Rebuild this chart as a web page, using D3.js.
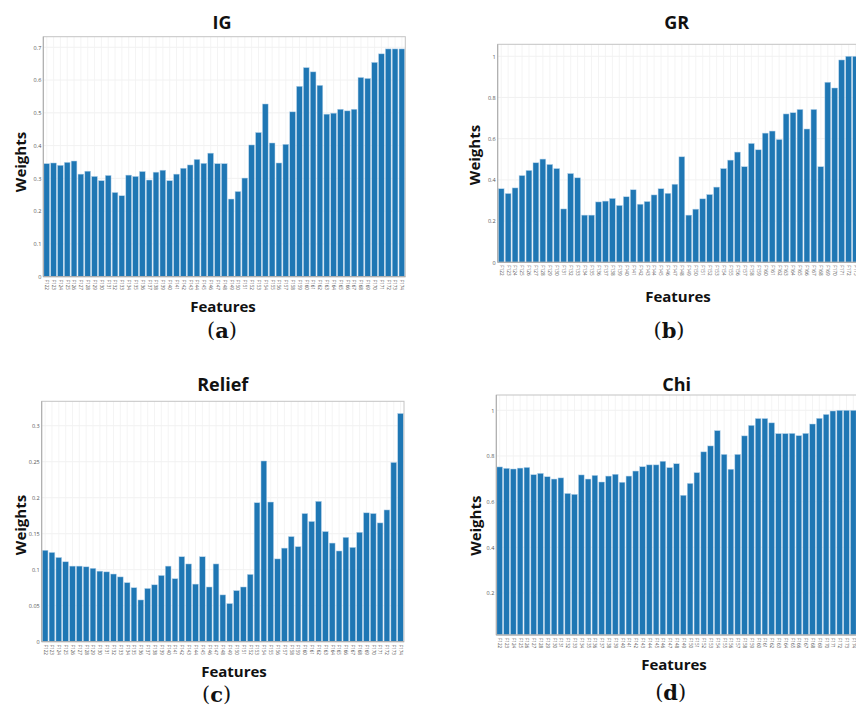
<!DOCTYPE html>
<html><head><meta charset="utf-8">
<script src="https://cdn.jsdelivr.net/npm/d3@7"></script>
<style>
html,body{margin:0;padding:0;background:#fff;overflow:hidden;}
svg{display:block;}
</style></head>
<body>
<svg id="chart" width="856" height="707"></svg>
<script>
const features = d3.range(122, 175).map(i => "F" + i);

const igValues = [0.345,0.347,0.340,0.349,0.353,0.313,0.322,0.306,0.293,0.309,0.257,0.247,0.310,0.306,0.321,0.295,0.319,0.325,0.293,0.313,0.331,0.341,0.358,0.346,0.377,0.345,0.345,0.237,0.260,0.301,0.402,0.440,0.527,0.408,0.347,0.404,0.503,0.581,0.638,0.625,0.584,0.496,0.499,0.511,0.506,0.511,0.608,0.605,0.654,0.680,0.695,0.695,0.695];
const grValues = [0.357,0.334,0.361,0.421,0.446,0.483,0.501,0.475,0.455,0.259,0.431,0.410,0.229,0.229,0.293,0.297,0.310,0.276,0.318,0.352,0.282,0.295,0.327,0.357,0.335,0.379,0.512,0.229,0.258,0.308,0.329,0.365,0.455,0.496,0.535,0.464,0.577,0.546,0.627,0.637,0.596,0.720,0.726,0.742,0.647,0.742,0.464,0.874,0.846,0.982,1.0,1.0,1.0];
const reliefValues = [0.127,0.124,0.117,0.111,0.105,0.105,0.104,0.102,0.098,0.097,0.094,0.090,0.082,0.075,0.058,0.074,0.079,0.092,0.105,0.0875,0.118,0.108,0.080,0.118,0.076,0.108,0.065,0.053,0.071,0.076,0.0935,0.193,0.251,0.194,0.115,0.130,0.146,0.132,0.178,0.167,0.195,0.153,0.137,0.126,0.145,0.131,0.152,0.179,0.178,0.165,0.183,0.249,0.317];
const chiValues = [0.752,0.746,0.743,0.747,0.750,0.718,0.724,0.709,0.699,0.704,0.636,0.632,0.717,0.699,0.715,0.686,0.712,0.720,0.685,0.712,0.734,0.753,0.761,0.761,0.777,0.749,0.766,0.628,0.680,0.727,0.818,0.844,0.911,0.807,0.742,0.807,0.888,0.934,0.964,0.964,0.945,0.898,0.898,0.899,0.889,0.899,0.940,0.965,0.982,0.997,1.0,1.0,1.0];

const igTicks = [0,0.1,0.2,0.3,0.4,0.5,0.6,0.7];
const grTicks = [0,0.2,0.4,0.6,0.8,1];
const reliefTicks = [0,0.05,0.1,0.15,0.2,0.25,0.3];
const chiTicks = [0.2,0.4,0.6,0.8,1];

const panels = [
  {title:"IG", tag:"a", values:igValues, ticks:igTicks, domain:[0,0.7323],
   left:43.3, right:405.3, top:36.7, bottom:276.7,
   titlePos:[222,22], wPos:[20,162], fPos:[223,306], tagPos:[222,330]},
  {title:"GR", tag:"b", values:grValues, ticks:grTicks, domain:[0,1.058],
   left:497.7, right:866, top:44.3, bottom:262.3,
   titlePos:[676.7,22], wPos:[474,155], fPos:[678,296], tagPos:[669,330]},
  {title:"Relief", tag:"c", values:reliefValues, ticks:reliefTicks, domain:[0,0.3339],
   left:41.7, right:404, top:401.3, bottom:641.7,
   titlePos:[222.7,384], wPos:[20,525], fPos:[234,670.7], tagPos:[216.7,694]},
  {title:"Chi", tag:"d", values:chiValues, ticks:chiTicks, domain:[0.016,1.067],
   left:496.3, right:856.7, top:395, bottom:635,
   titlePos:[676.7,384], wPos:[475,525.7], fPos:[674,664], tagPos:[670.7,692]}
];

const svg = d3.select("#chart");

panels.forEach(p => {
  const g = svg.append("g");
  const x = d3.scaleBand().domain(features).range([p.left, p.right]).paddingInner(0.16).paddingOuter(0.08);
  const y = d3.scaleLinear().domain(p.domain).range([p.bottom, p.top]);

  g.append("g").selectAll("line").data(p.ticks).join("line")
    .attr("x1", p.left).attr("x2", p.right)
    .attr("y1", d => y(d)).attr("y2", d => y(d))
    .attr("stroke", "#eeeeee").attr("stroke-width", 0.8);
  g.append("g").selectAll("line").data(features).join("line")
    .attr("x1", d => x(d) + x.bandwidth()/2).attr("x2", d => x(d) + x.bandwidth()/2)
    .attr("y1", p.top).attr("y2", p.bottom)
    .attr("stroke", "#f1f1f1").attr("stroke-width", 0.8);

  g.append("g").selectAll("rect").data(p.values).join("rect")
    .attr("x", (d,i) => x(features[i]))
    .attr("width", x.bandwidth())
    .attr("y", d => y(d))
    .attr("height", d => p.bottom - y(d))
    .attr("fill", "#1f77b4")
    .attr("stroke", "#b9d5ec").attr("stroke-width", 0.5);

  g.append("rect").attr("x", p.left).attr("y", p.top)
    .attr("width", p.right - p.left).attr("height", p.bottom - p.top)
    .attr("fill", "none").attr("stroke", "#c4c4c4").attr("stroke-width", 1);
  g.append("line").attr("x1", p.left).attr("x2", p.left).attr("y1", p.top).attr("y2", p.bottom)
    .attr("stroke", "#aaaaaa").attr("stroke-width", 1);
  g.append("line").attr("x1", p.left).attr("x2", p.right).attr("y1", p.bottom).attr("y2", p.bottom)
    .attr("stroke", "#aaaaaa").attr("stroke-width", 1);

  const yAxis = d3.axisLeft(y).tickValues(p.ticks).tickSize(0).tickPadding(2)
    .tickFormat(d => d3.format("~g")(d));
  const ya = g.append("g").attr("transform", `translate(${p.left},0)`).call(yAxis);
  ya.select(".domain").remove();
  ya.selectAll("text").attr("font-family", "Open Sans, sans-serif").attr("font-size", 5.5).attr("fill", "#555");

  const xAxis = d3.axisBottom(x).tickSize(0).tickPadding(0);
  const xa = g.append("g").attr("transform", `translate(0,${p.bottom})`).call(xAxis);
  xa.select(".domain").remove();
  xa.selectAll("text")
    .attr("font-family", "Open Sans, sans-serif").attr("font-size", 4.6).attr("fill", "#555")
    .attr("text-anchor", "start").attr("dy", null).attr("y", 0)
    .attr("transform", "translate(-1.6,3) rotate(90)");

  g.append("text").attr("x", p.titlePos[0]).attr("y", p.titlePos[1])
    .attr("text-anchor", "middle").attr("dominant-baseline", "central")
    .attr("font-family", "Open Sans, sans-serif").attr("font-weight", 700).attr("font-size", 18)
    .attr("fill", "#111").text(p.title);
  g.append("text").attr("transform", `translate(${p.wPos[0]},${p.wPos[1]}) rotate(-90)`)
    .attr("text-anchor", "middle").attr("dominant-baseline", "central")
    .attr("font-family", "Open Sans, sans-serif").attr("font-weight", 700).attr("font-size", 15)
    .attr("fill", "#111").text("Weights");
  g.append("text").attr("x", p.fPos[0]).attr("y", p.fPos[1])
    .attr("text-anchor", "middle").attr("dominant-baseline", "central")
    .attr("font-family", "Open Sans, sans-serif").attr("font-weight", 700).attr("font-size", 15)
    .attr("fill", "#111").text("Features");
  const t = g.append("text").attr("x", p.tagPos[0]).attr("y", p.tagPos[1])
    .attr("text-anchor", "middle").attr("dominant-baseline", "central")
    .attr("font-family", "DejaVu Serif, serif").attr("font-size", 21)
    .attr("fill", "#111");
  t.append("tspan").text("(");
  t.append("tspan").attr("font-weight", 700).text(p.tag);
  t.append("tspan").text(")");
});
</script>
</body></html>
